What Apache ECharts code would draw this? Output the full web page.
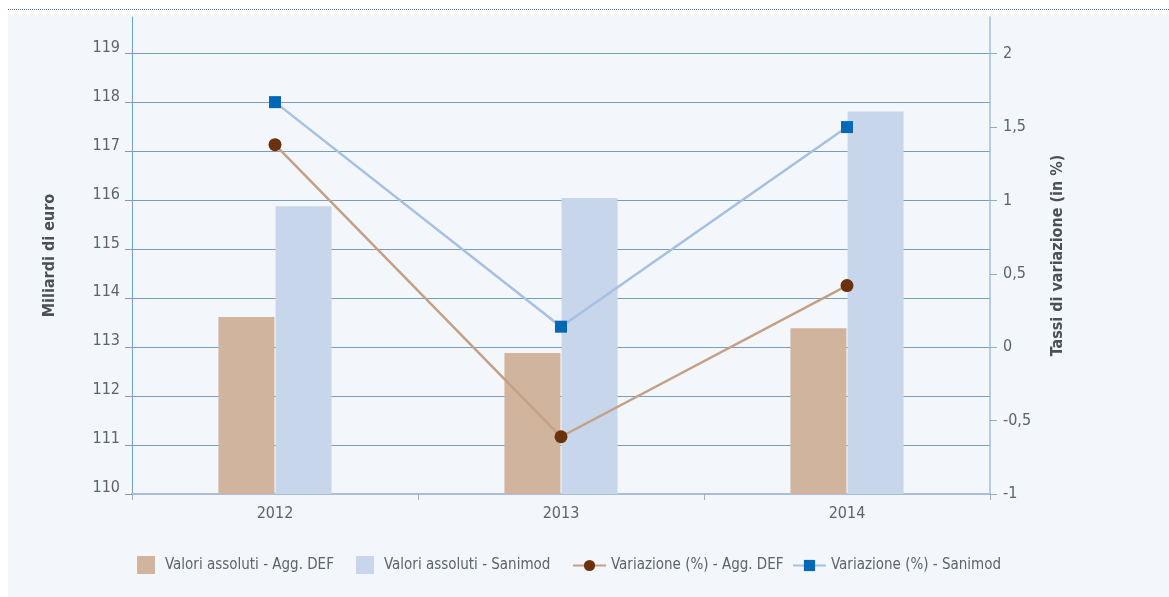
<!DOCTYPE html>
<html>
<head>
<meta charset="utf-8">
<script src="https://cdn.jsdelivr.net/npm/echarts@6/dist/echarts.min.js"></script>
<style>
  html, body { margin: 0; padding: 0; background: #fff; }
  .dots { position: absolute; left: 8px; top: 9px; width: 1161px; border-top: 1px dotted #3f6e9c; }
  .panel { position: absolute; left: 8px; top: 15px; width: 1161px; height: 582px; background: #f3f6fb; }
  #main { position: absolute; left: 0; top: 0; width: 1169px; height: 597px; }
</style>
</head>
<body>
<div class="dots"></div>
<div class="panel"></div>
<div id="main"></div>
<script>
// anni
var categories = ['2012', '2013', '2014'];
// valori assoluti (miliardi di euro)
var valoriAggDef = [113.62, 112.88, 113.39];
var valoriSanimod = [115.88, 116.05, 117.82];
// variazione %
var variazioneAggDef = [1.38, -0.61, 0.42];
var variazioneSanimod = [1.67, 0.14, 1.5];
// tick labels
var leftTicks = [110, 111, 112, 113, 114, 115, 116, 117, 118, 119];
var rightTicks = [-1, -0.5, 0, 0.5, 1, 1.5, 2];

var font = "'Liberation Sans Narrow', 'DejaVu Sans Condensed', 'Roboto', sans-serif";
var textColor = '#5b636b';

var chart = echarts.init(document.getElementById('main'));

// one legend per item so each sits where it does in the original
function legendItem(name, left, isLine) {
  return {
    left: left,
    top: isLine ? 553 : 551,
    itemWidth: isLine ? 33 : 18,
    itemHeight: isLine ? 14 : 18,
    icon: isLine ? undefined : 'rect',
    data: [name],
    textStyle: { color: textColor, fontSize: 15, fontFamily: font, padding: [0, 0, 0, isLine ? 0 : 5] }
  };
}

chart.setOption({
  backgroundColor: 'transparent',
  animation: false,
  textStyle: { fontFamily: font },
  grid: { left: 132, right: 179, top: 17, bottom: 103, containLabel: false },
  legend: [
    legendItem('Valori assoluti - Agg. DEF', 132, false),
    legendItem('Valori assoluti - Sanimod', 351, false),
    legendItem('Variazione (%) - Agg. DEF', 567, true),
    legendItem('Variazione (%) - Sanimod', 787, true)
  ],
  xAxis: {
    type: 'category',
    data: categories,
    axisLine: { onZero: false, lineStyle: { color: '#a9bed8', width: 2 } },
    axisTick: { show: true, length: 6, lineStyle: { color: '#9ab2cf' } },
    axisLabel: { color: textColor, fontSize: 16, margin: 12, fontFamily: font },
    splitLine: { show: false }
  },
  yAxis: [{
    type: 'value',
    min: 110,
    max: 119.75,
    name: 'Miliardi di euro',
    nameLocation: 'middle',
    nameGap: 74,
    nameRotate: 90,
    nameTextStyle: { color: '#4a5058', fontSize: 16, fontWeight: 'bold', fontFamily: font },
    axisLine: { show: true, lineStyle: { color: '#7b9dc2', width: 1 } },
    axisTick: { show: true, inside: false, length: 7, lineStyle: { color: '#7b9dc2' }, customValues: leftTicks },
    axisLabel: {
      color: textColor, fontSize: 16, margin: 12, fontFamily: font, customValues: leftTicks,
      verticalAlign: 'bottom', lineHeight: 12
    },
    splitLine: { show: true, lineStyle: { color: '#7a9cc0', width: 1 } }
  }, {
    type: 'value',
    position: 'right',
    min: -1,
    max: 2.25,
    name: 'Tassi di variazione (in %)',
    nameLocation: 'middle',
    nameGap: 60,
    nameRotate: 90,
    nameTextStyle: { color: '#4a5058', fontSize: 16, fontWeight: 'bold', fontFamily: font },
    axisLine: { show: true, lineStyle: { color: '#a3bcd9', width: 1.5 } },
    axisTick: { show: true, inside: false, length: 7, lineStyle: { color: '#8eaacb' }, customValues: rightTicks },
    axisLabel: {
      color: textColor, fontSize: 16, margin: 13, fontFamily: font, customValues: rightTicks,
      formatter: function (v) { return String(v).replace('.', ','); }
    },
    splitLine: { show: false }
  }],
  series: [{
    name: 'Valori assoluti - Agg. DEF',
    type: 'bar',
    yAxisIndex: 0,
    barWidth: 56,
    barGap: '2%',
    itemStyle: { color: '#d1b49d' },
    data: valoriAggDef
  }, {
    name: 'Valori assoluti - Sanimod',
    type: 'bar',
    yAxisIndex: 0,
    barWidth: 56,
    barGap: '2%',
    itemStyle: { color: '#c7d6eb' },
    data: valoriSanimod
  }, {
    name: 'Variazione (%) - Agg. DEF',
    type: 'line',
    yAxisIndex: 1,
    symbol: 'circle',
    symbolSize: 13,
    lineStyle: { color: '#c3a088', width: 2.5 },
    itemStyle: { color: '#6b300c' },
    data: variazioneAggDef,
    z: 5
  }, {
    name: 'Variazione (%) - Sanimod',
    type: 'line',
    yAxisIndex: 1,
    symbol: 'rect',
    symbolSize: 12,
    lineStyle: { color: '#a6c0e2', width: 2.5 },
    itemStyle: { color: '#0068b5' },
    data: variazioneSanimod,
    z: 5
  }]
});
</script>
</body>
</html>
